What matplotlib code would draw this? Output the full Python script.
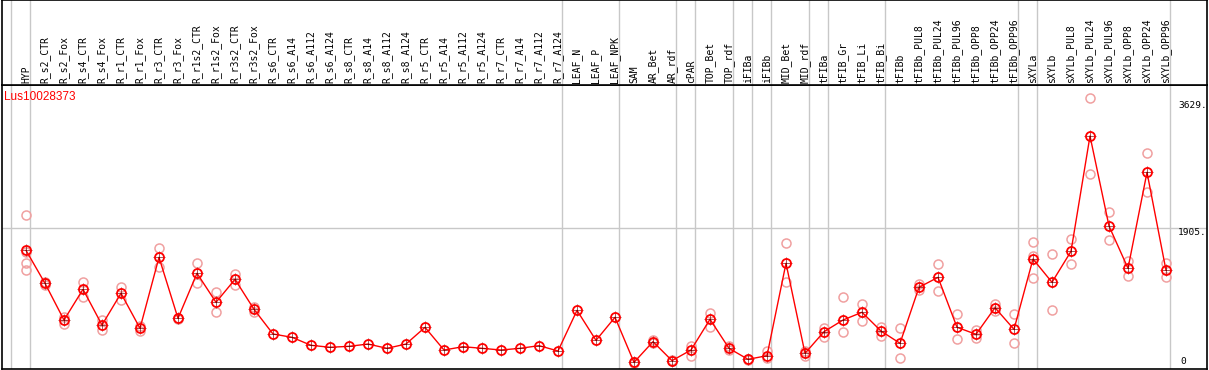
import matplotlib
matplotlib.use('Agg')
import matplotlib.pyplot as plt
import matplotlib.transforms as mtransforms

# sample names, in plotting order
samples = [
    'HYP',
    'R_s2_CTR', 'R_s2_Fox', 'R_s4_CTR', 'R_s4_Fox', 'R_r1_CTR', 'R_r1_Fox',
    'R_r3_CTR', 'R_r3_Fox', 'R_r1s2_CTR', 'R_r1s2_Fox', 'R_r3s2_CTR', 'R_r3s2_Fox',
    'R_s6_CTR', 'R_s6_A14', 'R_s6_A112', 'R_s6_A124',
    'R_s8_CTR', 'R_s8_A14', 'R_s8_A112', 'R_s8_A124',
    'R_r5_CTR', 'R_r5_A14', 'R_r5_A112', 'R_r5_A124',
    'R_r7_CTR', 'R_r7_A14', 'R_r7_A112', 'R_r7_A124',
    'LEAF_N', 'LEAF_P', 'LEAF_NPK',
    'SAM', 'AR_Bet', 'AR_rdf',
    'cPAR',
    'TOP_Bet', 'TOP_rdf',
    'iFIBa',
    'iFIBb',
    'MID_Bet', 'MID_rdf',
    'tFIBa',
    'tFIB_Gr', 'tFIB_Li', 'tFIB_Bi',
    'tFIBb', 'tFIBb_PUL8', 'tFIBb_PUL24', 'tFIBb_PUL96',
    'tFIBb_OPP8', 'tFIBb_OPP24', 'tFIBb_OPP96',
    'sXYLa',
    'sXYLb', 'sXYLb_PUL8', 'sXYLb_PUL24', 'sXYLb_PUL96',
    'sXYLb_OPP8', 'sXYLb_OPP24', 'sXYLb_OPP96',
]

# mean expression per sample
means = [
    1607,
    1160, 663, 1079, 596, 1025, 551, 1512, 686, 1296, 903, 1214, 808,
    474, 429, 321, 294, 307, 338, 280, 338,
    564, 257, 302, 280, 257, 280, 316, 244,
    794, 388, 700,
    90, 370, 113,
    257,
    673, 280,
    131,
    180,
    1431, 212,
    505,
    663, 768, 514,
    348, 1106, 1241, 565, 470, 830, 537,
    1489,
    1174, 1593, 3155, 1936, 1363, 2663, 1336,
]

# individual replicates per sample
replicates = [
    [2081, 1590, 1431, 1336],
    [1180, 1140], [708, 613], [1174, 979], [659, 528], [1106, 934], [582, 514],
    [1634, 1385], [695, 672], [1431, 1169], [1038, 768], [1286, 1137], [844, 772],
    [], [], [], [], [], [], [], [],
    [], [], [], [], [], [], [], [],
    [], [], [],
    [95, 85], [393, 348], [120, 105],
    [316, 176],
    [754, 573], [311, 257],
    [140, 122],
    [244, 153],
    [1702, 1174], [248, 176],
    [551, 437],
    [971, 497], [876, 646], [565, 451],
    [551, 145], [1147, 1070], [1417, 1060], [741, 402],
    [528, 424], [880, 790], [741, 348],
    [1724, 1534, 1228],
    [1553, 799], [1756, 1417], [3665, 2636], [2122, 1742],
    [1462, 1259], [2920, 2392], [1435, 1241],
]

# last sample index of each tissue group
group_ends = [-1, 0, 28, 31, 34, 35, 37, 38, 39, 41, 42, 45, 52, 53, 60]

gene = 'Lus10028373'
y_max_label = 3629
y_mid_label = 1905

RED = '#ff0000'
PINK = '#f0a0a0'
GRAY = '#c8c8c8'

W, H = 1209, 370
fig = plt.figure(figsize=(W / 100, H / 100), dpi=100)

x0, x1 = 2, 1207          # frame in pixels
y_head, y_bot = 85, 369
step = 19.0
first = 26
xlim = ((x0 - first) / step, (x1 - first) / step)
px_per_unit = (y_bot - 228.3) / y_mid_label
ylim = (0, (y_bot - y_head) / px_per_unit)

ax = fig.add_axes([x0 / W, (H - y_bot) / H, (x1 - x0) / W, (y_bot - y_head) / H])
hd = fig.add_axes([x0 / W, (H - y_head) / H, (x1 - x0) / W, y_head / H])

for a in (ax, hd):
    a.set_xlim(*xlim)
    a.set_xticks([])
    a.set_yticks([])
    for s in a.spines.values():
        s.set_color('black')
        s.set_linewidth(1.2)
    for g in group_ends:
        a.axvline(g + 0.21, color=GRAY, lw=1, zorder=0)
ax.set_ylim(*ylim)
hd.set_ylim(0, 1)

ax.axhline(y_mid_label, color=GRAY, lw=1, zorder=0)

xs = list(range(len(samples)))

# replicate points
for i, reps in enumerate(replicates):
    if reps:
        ax.plot([i] * len(reps), reps, ls='none', marker='o', ms=6.5,
                mfc='none', mec=PINK, mew=1.1, zorder=2)

ax.plot(xs, means, color=RED, lw=1, zorder=3)
ax.plot(xs, means, ls='none', marker='+', ms=9, mec='#700000', mew=0.45, zorder=4)
ax.plot(xs, means, ls='none', marker='o', ms=6.5, mfc='none', mec=RED,
        mew=1.3, zorder=5)

# sample labels in header
for i, name in enumerate(samples):
    hd.text(i, 2 / y_head, name, rotation=90, ha='center', va='bottom',
            fontsize=7, family='DejaVu Sans Mono')

ax.text(2 / (x1 - x0), 1 - (97 - y_head) / (y_bot - y_head), gene,
        transform=ax.transAxes, color=RED, fontsize=8.5,
        family='Liberation Sans', ha='left', va='center')

lab_x = (1178 - first) / step
ax.text(lab_x, y_max_label, f'{y_max_label}.', ha='left', va='top',
        fontsize=6.8, family='DejaVu Sans Mono')
ax.text(lab_x, y_mid_label, f'{y_mid_label}.', ha='left', va='top',
        fontsize=6.8, family='DejaVu Sans Mono')
off = mtransforms.offset_copy(ax.transData, fig=fig, x=2, y=3, units='dots')
ax.text(lab_x, 0, '0', ha='left', va='bottom', fontsize=6.8,
        family='DejaVu Sans Mono', transform=off)

fig.savefig('out.png', dpi=100)
